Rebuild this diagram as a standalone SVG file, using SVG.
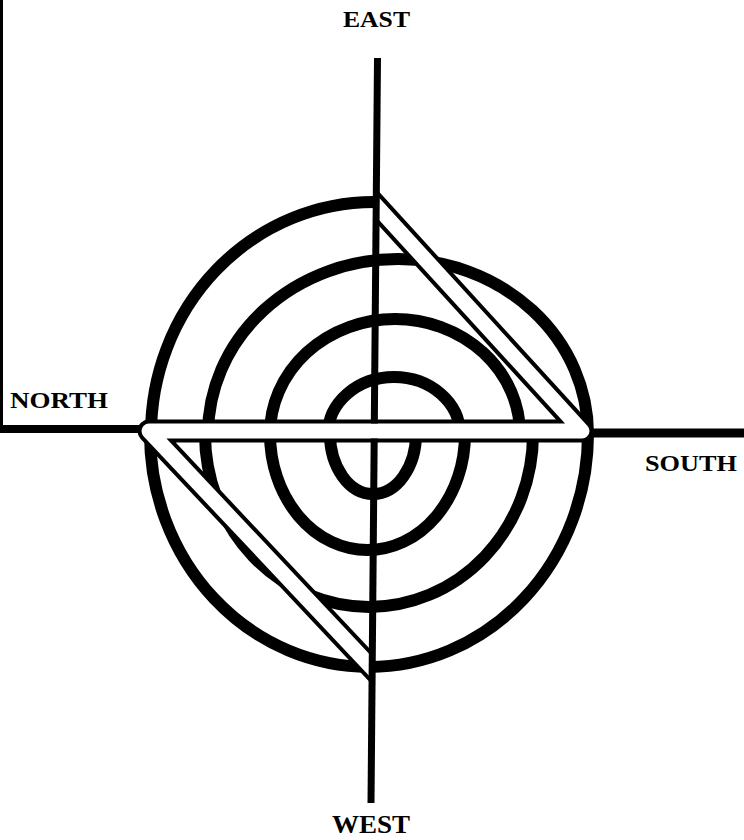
<svg xmlns="http://www.w3.org/2000/svg" width="744" height="840" viewBox="0 0 744 840">
<style>
.arc{fill:none;stroke:#000;stroke-width:12}
.ax{stroke:#000;fill:none}
.lbl{font-family:"Liberation Serif","DejaVu Serif",serif;font-weight:bold;fill:#000}
</style>
<defs>
<clipPath id="bandClip">
<polygon points="376.4,0 744,0 744,447 373.5,447 370.7,840 0,840 0,415 375.3,415"/>
</clipPath>
</defs>
<rect x="0" y="0" width="744" height="840" fill="#fff"/>
<g id="rings">
<path class="arc" d="M328,434 A66,57 0 0 1 460,434"/>
<path class="arc" d="M270,434 A125,115 0 0 1 520,434"/>
<path class="arc" d="M208,434 A190,175 0 0 1 588,434"/>
<path class="arc" d="M151,434 A223,232 0 0 1 374,202"/>
<path class="arc" d="M330,434 A43,60 0 0 0 416,434"/>
<path class="arc" d="M270,434 A97.5,116 0 0 0 465,434"/>
<path class="arc" d="M205,434 A164,173 0 0 0 533,434"/>
<path class="arc" d="M150,434 A219,233 0 0 0 588,434"/>
</g>
<g id="band" clip-path="url(#bandClip)">
<path d="M360,188 L582,431 L149,431 L390,687" fill="none" stroke="#000" stroke-width="23" stroke-linejoin="round"/>
<path d="M360,188 L582,431 L149,431 L390,687" fill="none" stroke="#fff" stroke-width="15" stroke-linejoin="round"/>
</g>
<g id="axes">
<line class="ax" x1="377.5" y1="58" x2="374.3" y2="423.5" stroke-width="7"/>
<line class="ax" x1="374.2" y1="438.5" x2="371" y2="803" stroke-width="7"/>
<line class="ax" x1="0" y1="429" x2="140" y2="429" stroke-width="8"/>
<line class="ax" x1="590" y1="433" x2="744" y2="433" stroke-width="9"/>
<line class="ax" x1="1.5" y1="0" x2="1.5" y2="431" stroke-width="3"/>
</g>
<g id="labels">
<text class="lbl" x="343" y="27" font-size="24" textLength="67" lengthAdjust="spacingAndGlyphs">EAST</text>
<text class="lbl" x="10" y="408" font-size="24" textLength="98" lengthAdjust="spacingAndGlyphs">NORTH</text>
<text class="lbl" x="645" y="471" font-size="24" textLength="92" lengthAdjust="spacingAndGlyphs">SOUTH</text>
<text class="lbl" x="332" y="833" font-size="26" textLength="78" lengthAdjust="spacingAndGlyphs">WEST</text>
</g>
</svg>
